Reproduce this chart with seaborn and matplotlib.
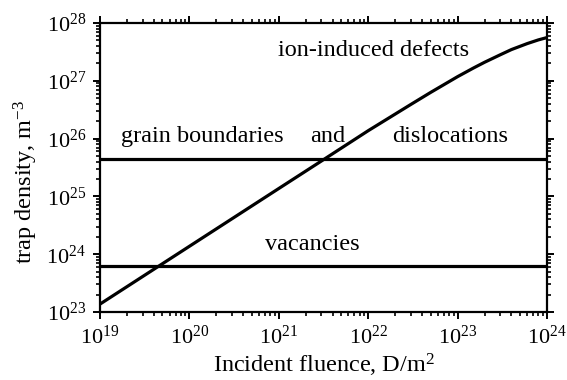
import numpy as np
import pandas as pd
import seaborn as sns
import matplotlib
matplotlib.use("Agg")
import matplotlib.pyplot as plt
from matplotlib.ticker import LogLocator, LogFormatterMathtext, NullFormatter

# Trap density created by ion irradiation vs. incident fluence
fluence = [1e19, 1e20, 1e21, 3e21, 1e22, 3e22, 5e22, 1e23, 1.5e23, 2e23,
           3e23, 4e23, 6e23, 8e23, 1e24]
ion_defects = [1.37e23, 1.37e24, 1.37e25, 4.1e25, 1.37e26, 3.9e26, 6.3e26,
               1.18e27, 1.66e27, 2.09e27, 2.82e27, 3.47e27, 4.4e27,
               5.1e27, 5.6e27]

# Intrinsic (fluence-independent) trap densities
grain_boundaries_dislocations = 4.4e25
vacancies = 6.2e23

x_limits = [1e19, 1e24]
y_limits = [1e23, 1e28]

sns.set_theme(style="ticks")
plt.rcParams["font.family"] = ["Liberation Serif", "DejaVu Serif"]
plt.rcParams["mathtext.fontset"] = "custom"
plt.rcParams["mathtext.rm"] = "Liberation Serif"
plt.rcParams["mathtext.it"] = "Liberation Serif:italic"
plt.rcParams["mathtext.bf"] = "Liberation Serif:bold"
for key in ("text.color", "axes.labelcolor", "xtick.color", "ytick.color",
            "axes.edgecolor"):
    plt.rcParams[key] = "black"

fig = plt.figure(figsize=(5.67, 3.80), dpi=100)
ax = fig.add_axes([100 / 567, 1 - 312 / 380, 447 / 567, 289 / 380])

df = pd.DataFrame({"fluence": fluence, "density": ion_defects})
sns.lineplot(data=df, x="fluence", y="density", ax=ax, color="black",
             linewidth=2.3, sort=True)
ax.axhline(grain_boundaries_dislocations, color="black", linewidth=2.3)
ax.axhline(vacancies, color="black", linewidth=2.3)

ax.set_xscale("log")
ax.set_yscale("log")
ax.set_xlim(*x_limits)
ax.set_ylim(*y_limits)

for axis in (ax.xaxis, ax.yaxis):
    axis.set_major_locator(LogLocator(base=10, numticks=10))
    axis.set_minor_locator(LogLocator(base=10, subs=np.arange(2, 10), numticks=10))
    axis.set_major_formatter(LogFormatterMathtext())
    axis.set_minor_formatter(NullFormatter())

ax.tick_params(which="both", direction="out", top=True, right=True,
               colors="black", labelsize=16)
ax.tick_params(which="major", length=5, width=1.4, pad=5)
ax.tick_params(which="minor", length=3, width=1.2)
for side in ax.spines.values():
    side.set_visible(True)
    side.set_linewidth(1.6)
    side.set_color("black")

ax.set_xlabel("Incident fluence, D/m$^2$", fontsize=17.5, labelpad=2)
ax.set_ylabel("trap density, m$^{-3}$", fontsize=17.5)
ax.yaxis.set_label_coords(-0.135, 0.45)

text_kw = dict(fontsize=17.5, ha="center", va="center", color="black")
ax.text(0.611, 0.904, "ion-induced defects", transform=ax.transAxes, **text_kw)
ax.text(0.228, 0.606, "grain boundaries", transform=ax.transAxes, **text_kw)
ax.text(0.51, 0.606, "and", transform=ax.transAxes, **text_kw)
ax.text(0.783, 0.606, "dislocations", transform=ax.transAxes, **text_kw)
ax.text(0.476, 0.233, "vacancies", transform=ax.transAxes, **text_kw)

fig.savefig("out.png", dpi=100)
